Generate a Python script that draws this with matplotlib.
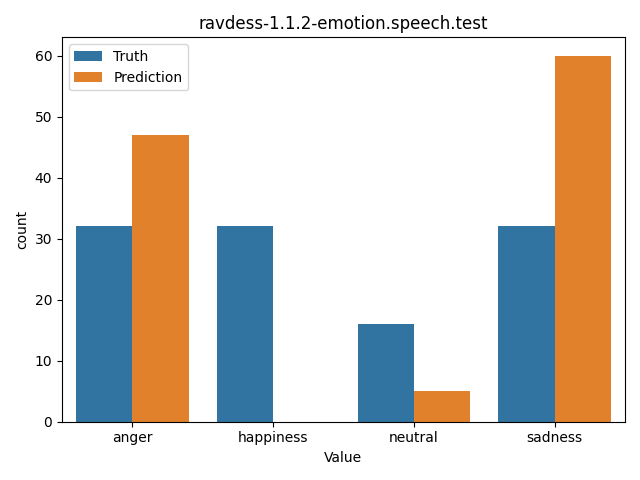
import matplotlib
matplotlib.use("Agg")
import matplotlib.pyplot as plt
import numpy as np

categories = ["anger", "happiness", "neutral", "sadness"]
truth_counts = [32, 32, 16, 32]
prediction_counts = [47, 0, 5, 60]
series_labels = ["Truth", "Prediction"]

x = np.arange(len(categories))
width = 0.4

fig, ax = plt.subplots(figsize=(6.4, 4.8))
ax.bar(x - width / 2, truth_counts, width, color="#3274a1", label=series_labels[0])
ax.bar(x + width / 2, prediction_counts, width, color="#e1812c", label=series_labels[1])
ax.set_xticks(x)
ax.set_xticklabels(categories)
ax.set_xlim(-0.5, len(categories) - 0.5)
ax.set_xlabel("Value")
ax.set_ylabel("count")
ax.set_title("ravdess-1.1.2-emotion.speech.test")
ax.legend(loc="upper left")
fig.tight_layout()
fig.savefig("out.png", dpi=100)
